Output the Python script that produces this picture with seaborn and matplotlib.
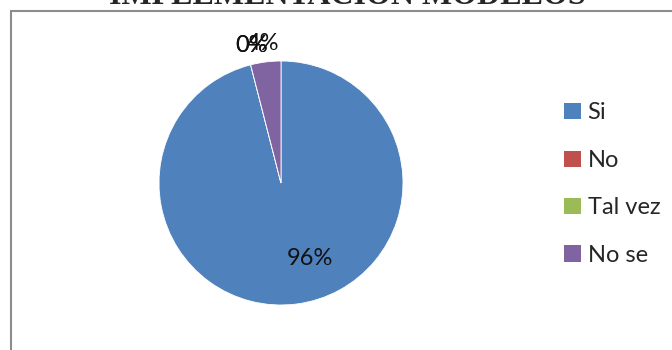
import matplotlib
matplotlib.use("Agg")
import matplotlib.pyplot as plt
from matplotlib.patches import Patch, Rectangle
import numpy as np
import seaborn as sns

sns.set_theme(style="white")
plt.rcParams["font.family"] = ["Lato", "DejaVu Sans"]

# Survey answers (percent of respondents)
categories = ["Si", "No", "Tal vez", "No se"]
values = [96, 0, 0, 4]
colors = ["#4F81BD", "#C0504D", "#9BBB59", "#8064A2"]
title = "IMPLEMENTACION MODELOS"

W, H = 672, 350
fig = plt.figure(figsize=(W / 100, H / 100), dpi=100)
fig.patch.set_facecolor("white")

# chart frame (only the top and left edges fall inside the canvas)
fig.patches.append(Rectangle((10.5 / W, -0.1), 1.2, (H - 11) / H + 0.1,
                             transform=fig.transFigure, fill=False,
                             edgecolor="#8C8C8C", linewidth=1.5))

fig.text(347 / W, 1 - 4.5 / H, title, ha="center", va="baseline",
         fontsize=23, fontweight="bold", family="Liberation Serif")

cx, cy, r = 281, 183, 122
ax = fig.add_axes([(cx - r) / W, (H - cy - r) / H, 2 * r / W, 2 * r / H])
wedges, _ = ax.pie(values, colors=colors, startangle=90, counterclock=False,
                   radius=1, wedgeprops=dict(edgecolor="white", linewidth=0.6))
ax.set_xlim(-1, 1)
ax.set_ylim(-1, 1)
ax.set_aspect("equal")
ax.axis("off")

# percentage labels: large slice inside, tiny slices just outside the rim
for w, v in zip(wedges, values):
    mid = (w.theta1 + w.theta2) / 2
    if v >= 50:
        d, mid = 0.66, mid + 14
    elif v == 0:
        d, mid = 1.15, mid - 2.4
    else:
        d = 1.15
    a = np.deg2rad(mid)
    ax.text(d * np.cos(a), d * np.sin(a), f"{v:.0f}%", ha="center",
            va="center", fontsize=17, color="#111111")

handles = [Patch(facecolor=c, edgecolor="none") for c in colors]
fig.legend(handles, categories, loc="upper left",
           bbox_to_anchor=(555 / W, 1 - 93 / H), frameon=False,
           fontsize=17, handlelength=0.68, handleheight=0.68,
           handletextpad=0.3, labelspacing=1.12, borderaxespad=0)

fig.savefig("out.png", dpi=100, facecolor="white")
